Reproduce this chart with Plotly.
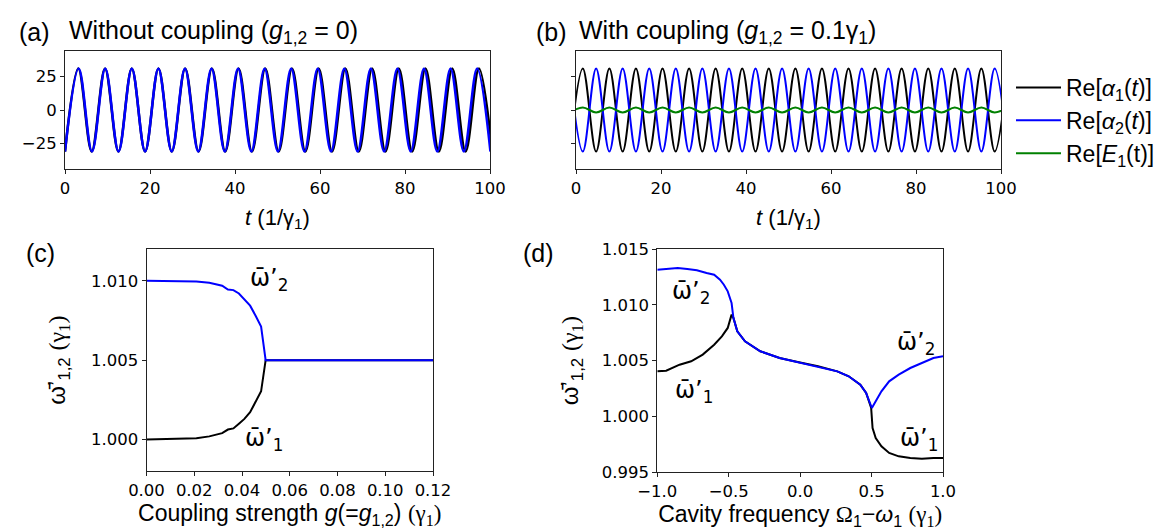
import plotly.graph_objects as go

W, H = 1163, 530

# ---------------- Panel (a): without coupling (extrema) ----------------
a_black_t = [0, 3.14, 6.28, 9.42, 12.57, 15.71, 18.85, 21.99, 25.13, 28.27, 31.42, 34.56,
             37.70, 40.84, 43.98, 47.12, 50.27, 53.41, 56.55, 59.69, 62.83, 65.97, 69.12,
             72.26, 75.40, 78.54, 81.68, 84.82, 87.96, 91.11, 94.25, 97.39, 100.53]
a_black_v = [-31, 31, -31, 31, -31, 31, -31, 31, -31, 31, -31, 31, -31, 31, -31, 31, -31,
             31, -31, 31, -31, 31, -31, 31, -31, 31, -31, 31, -31, 31, -31, 31, -31]
a_blue_t = [0, 3.22, 6.35, 9.47, 12.60, 15.72, 18.85, 21.97, 25.10, 28.22, 31.35, 34.47,
            37.60, 40.72, 43.85, 46.97, 50.10, 53.22, 56.35, 59.47, 62.60, 65.72, 68.85,
            71.97, 75.10, 78.22, 81.35, 84.47, 87.60, 90.72, 93.85, 96.97, 100.10]
a_blue_v = [-31, 31, -31, 31, -31, 31, -31, 31, -31, 31, -31, 31, -31, 31, -31, 31, -31,
            31, -31, 31, -31, 31, -31, 31, -31, 31, -31, 31, -31, 31, -31, 31, -31]

# ---------------- Panel (b): with coupling ----------------
b_t = [-1.53, 1.60, 4.73, 7.85, 10.98, 14.10, 17.23, 20.36, 23.48, 26.61, 29.73, 32.86,
       35.99, 39.11, 42.24, 45.36, 48.49, 51.62, 54.74, 57.87, 60.99, 64.12, 67.25, 70.37,
       73.50, 76.62, 79.75, 82.88, 86.00, 89.13, 92.25, 95.38, 98.51, 101.63]
b_black_v = [-31, 31, -31, 31, -31, 31, -31, 31, -31, 31, -31, 31, -31, 31, -31, 31, -31,
             31, -31, 31, -31, 31, -31, 31, -31, 31, -31, 31, -31, 31, -31, 31, -31, 31]
b_blue_v = [31, -31, 31, -31, 31, -31, 31, -31, 31, -31, 31, -31, 31, -31, 31, -31, 31,
            -31, 31, -31, 31, -31, 31, -31, 31, -31, 31, -31, 31, -31, 31, -31, 31, -31]
b_green_v = [-1.8, 1.8, -1.8, 1.8, -1.8, 1.8, -1.8, 1.8, -1.8, 1.8, -1.8, 1.8, -1.8, 1.8,
             -1.8, 1.8, -1.8, 1.8, -1.8, 1.8, -1.8, 1.8, -1.8, 1.8, -1.8, 1.8, -1.8, 1.8,
             -1.8, 1.8, -1.8, 1.8, -1.8, 1.8]
time_ticks = [0, 20, 40, 60, 80, 100]
amp_ticks = [-25, 0, 25]
legend_names = ["Re[<i>α</i><sub>1</sub>(<i>t</i>)]", "Re[<i>α</i><sub>2</sub>(<i>t</i>)]",
                "Re[<i>E</i><sub>1</sub>(t)]"]

# ---------------- Panel (c): frequencies vs coupling ----------------
c_g = [0.0, 0.0116, 0.0209, 0.0263, 0.0317, 0.0341, 0.0364, 0.0387, 0.0410, 0.0434,
       0.0457, 0.0480, 0.0499, 0.06, 0.08, 0.10, 0.12]
c_w2 = [1.0100, 1.0100, 1.00996, 1.00987, 1.00969, 1.00945, 1.00941, 1.00920, 1.00885,
        1.00843, 1.00780, 1.00711, 1.0050, 1.0050, 1.0050, 1.0050, 1.0050]
c_w1 = [1.0000, 1.00002, 1.00008, 1.00020, 1.00040, 1.00063, 1.00070, 1.00100, 1.00130,
        1.00172, 1.00235, 1.00304, 1.0050, 1.0050, 1.0050, 1.0050, 1.0050]
c_xticks = [0.0, 0.02, 0.04, 0.06, 0.08, 0.10, 0.12]
c_yticks = [1.000, 1.005, 1.010]

# ---------------- Panel (d): frequencies vs cavity detuning ----------------
d_blue_x = [-1.0, -0.925, -0.857, -0.79, -0.723, -0.655, -0.602, -0.561, -0.534, -0.507,
            -0.48, -0.467, -0.44, -0.386, -0.279, -0.144, -0.009, 0.125, 0.26, 0.34,
            0.421, 0.462, 0.502, 0.529, 0.569, 0.623, 0.69, 0.771, 0.852, 0.933, 1.0]
d_blue_w = [1.01315, 1.0132, 1.0133, 1.0132, 1.0131, 1.01285, 1.0127, 1.01225, 1.0118,
            1.01121, 1.01016, 1.00882, 1.00763, 1.00673, 1.00584, 1.00524, 1.00485,
            1.00449, 1.00404, 1.0036, 1.00285, 1.0021, 1.00076, 1.00136, 1.00225, 1.00315,
            1.00375, 1.00434, 1.00479, 1.00524, 1.00539]
d_black_x = [-1.0, -0.938, -0.844, -0.763, -0.682, -0.602, -0.548, -0.507, -0.48, -0.467,
             -0.44, -0.386, -0.279, -0.144, -0.009, 0.125, 0.26, 0.34, 0.421, 0.462, 0.497,
             0.507, 0.529, 0.569, 0.623, 0.69, 0.771, 0.852, 0.933, 1.0]
d_black_w = [1.00405, 1.0041, 1.00464, 1.00494, 1.00554, 1.00643, 1.00718, 1.00793, 1.00912,
             1.00882, 1.00763, 1.00673, 1.00584, 1.00524, 1.00485, 1.00449, 1.00404, 1.0036,
             1.00285, 1.0021, 1.00076, 0.99897, 0.99807, 0.99733, 0.99673, 0.99643, 0.99628,
             0.99622, 0.99628, 0.99628]
d_xticks = [-1.0, -0.5, 0.0, 0.5, 1.0]
d_yticks = [0.995, 1.000, 1.005, 1.010, 1.015]

BLACK, BLUE, GREEN = "#000000", "#0000ff", "#008000"
SANS = "Liberation Sans, Arial, sans-serif"
TICKF = dict(family="DejaVu Sans", size=16.5, color="#000")

fig = go.Figure()

# (a)
fig.add_trace(go.Scatter(x=a_black_t, y=a_black_v, mode="lines", line=dict(color=BLACK, width=2.5, shape="spline"),
                         showlegend=False, xaxis="x", yaxis="y"))
fig.add_trace(go.Scatter(x=a_blue_t, y=a_blue_v, mode="lines", line=dict(color=BLUE, width=2.5, shape="spline"),
                         showlegend=False, xaxis="x", yaxis="y"))
# (b)
for vals, col, name, grp in [(b_black_v, BLACK, legend_names[0], "g1"),
                             (b_blue_v, BLUE, legend_names[1], "g2"),
                             (b_green_v, GREEN, legend_names[2], "g3")]:
    fig.add_trace(go.Scatter(x=b_t, y=vals, mode="lines", name=name, legendgroup=grp,
                             line=dict(color=col, width=2, shape="spline"),
                             xaxis="x2", yaxis="y2"))
# (c)
fig.add_trace(go.Scatter(x=c_g, y=c_w1, mode="lines", line=dict(color=BLACK, width=2),
                         showlegend=False, xaxis="x3", yaxis="y3"))
fig.add_trace(go.Scatter(x=c_g, y=c_w2, mode="lines", line=dict(color=BLUE, width=2),
                         showlegend=False, xaxis="x3", yaxis="y3"))
# (d)
fig.add_trace(go.Scatter(x=d_black_x, y=d_black_w, mode="lines", line=dict(color=BLACK, width=2),
                         showlegend=False, xaxis="x4", yaxis="y4"))
fig.add_trace(go.Scatter(x=d_blue_x, y=d_blue_w, mode="lines", line=dict(color=BLUE, width=2),
                         showlegend=False, xaxis="x4", yaxis="y4"))


def ax(**kw):
    base = dict(showline=True, mirror=True, linecolor="#222", linewidth=1, ticks="outside",
                ticklen=4, tickwidth=1, tickcolor="#222", showgrid=False, zeroline=False,
                tickfont=TICKF, fixedrange=True, automargin=False)
    base.update(kw)
    return base


def px_x(a, b):
    return [a / W, b / W]


def px_y(top, bottom):
    return [1 - bottom / H, 1 - top / H]


TITLEF = dict(family=SANS, size=22, color="#000")
AXT = dict(family=SANS, size=24, color="#000")
AXTB = dict(family=SANS, size=23, color="#000")
SERIF_G = "<span style='font-family:Liberation Serif'>(γ<sub>1</sub>)</span>"
fig.update_layout(
    width=W, height=H, margin=dict(l=0, r=0, t=0, b=0, autoexpand=False),
    paper_bgcolor="white", plot_bgcolor="white",
    xaxis=ax(domain=px_x(57, 482), range=[0, 100], tickvals=time_ticks, anchor="y",
             title=dict(text="<i>t</i> (1/γ<sub>1</sub>)", font=TITLEF, standoff=12)),
    yaxis=ax(domain=px_y(43, 161), range=[-44, 44], tickvals=amp_ticks, anchor="x"),
    xaxis2=ax(domain=px_x(568, 993), range=[0, 100], tickvals=time_ticks, anchor="y2",
              title=dict(text="<i>t</i> (1/γ<sub>1</sub>)", font=TITLEF, standoff=12)),
    yaxis2=ax(domain=px_y(43, 161), range=[-44, 44], tickvals=amp_ticks, anchor="x2",
              showticklabels=False),
    xaxis3=ax(domain=px_x(138.5, 425), range=[0, 0.12], tickvals=c_xticks, tickformat=".2f",
              anchor="y3",
              title=dict(text="Coupling strength <i>g</i>(=<i>g</i><sub>1,2</sub>) " + SERIF_G,
                         font=AXTB, standoff=4)),
    yaxis3=ax(domain=px_y(241, 463.3), range=[0.998, 1.012], tickvals=c_yticks,
              tickformat=".3f", anchor="x3",
              title=dict(text="ω̄’<sub>1,2</sub> " + SERIF_G, font=AXT, standoff=18)),
    xaxis4=ax(domain=px_x(649.3, 935), range=[-1, 1], tickvals=d_xticks, tickformat=".1f",
              anchor="y4",
              title=dict(text="Cavity frequency <span style='font-family:Liberation Serif'>Ω</span><sub>1</sub>−<i>ω</i><sub>1</sub> " + SERIF_G,
                         font=AXTB, standoff=4)),
    yaxis4=ax(domain=px_y(241, 464.3), range=[0.995, 1.015], tickvals=d_yticks,
              tickformat=".3f", anchor="x4",
              title=dict(text="ω̄’<sub>1,2</sub> " + SERIF_G, font=AXT, standoff=16)),
    legend=dict(x=1003 / W, y=1 - 58 / H, xanchor="left", yanchor="top",
                font=dict(family=SANS, size=23, color="#000"), bgcolor="rgba(0,0,0,0)",
                tracegroupgap=0, traceorder="grouped", itemwidth=45),
    showlegend=True,
)

ann = []
PF = dict(family=SANS, size=25, color="#000")
for txt, x, y in [("(a)", 9, 24), ("(b)", 526, 24), ("(c)", 16, 245), ("(d)", 513, 245)]:
    ann.append(dict(text=txt, x=x / W, y=1 - y / H, xref="paper", yref="paper",
                    xanchor="left", yanchor="middle", showarrow=False, font=PF))
ann.append(dict(text="Without coupling (<i>g</i><sub>1,2</sub> = 0)", x=59 / W, y=1 - 24 / H,
                xref="paper", yref="paper", xanchor="left", yanchor="middle", showarrow=False,
                font=PF))
ann.append(dict(text="With coupling (<i>g</i><sub>1,2</sub> = 0.1γ<sub>1</sub>)", x=569 / W,
                y=1 - 24 / H, xref="paper", yref="paper", xanchor="left", yanchor="middle",
                showarrow=False, font=PF))

LBL = dict(family="DejaVu Sans", size=24, color="#000")
for txt, x, y, xr, yr in [("ω̄’<sub>2</sub>", 0.0426, 1.0101, "x3", "y3"),
                          ("ω̄’<sub>1</sub>", 0.0403, 1.0000, "x3", "y3"),
                          ("ω̄’<sub>2</sub>", -0.911, 1.01106, "x4", "y4"),
                          ("ω̄’<sub>1</sub>", -0.892, 1.00225, "x4", "y4"),
                          ("ω̄’<sub>2</sub>", 0.664, 1.00658, "x4", "y4"),
                          ("ω̄’<sub>1</sub>", 0.683, 0.99793, "x4", "y4")]:
    ann.append(dict(text=txt, x=x, y=y, xref=xr, yref=yr, xanchor="left", yanchor="middle",
                    showarrow=False, font=LBL))
fig.update_layout(annotations=ann)

fig.write_html("out.html")
